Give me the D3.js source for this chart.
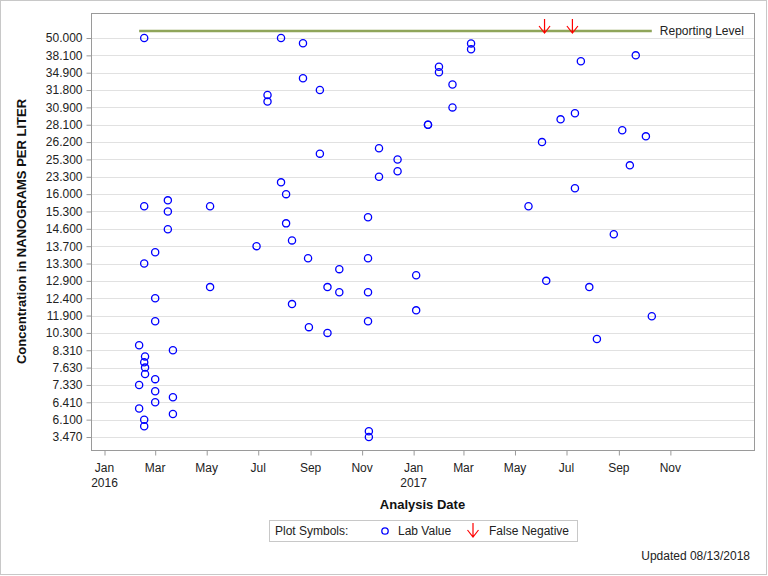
<!DOCTYPE html>
<html><head><meta charset="utf-8">
<script src="https://cdn.jsdelivr.net/npm/d3@7"></script>
<style>
html,body{margin:0;padding:0;background:#fff;}
svg{display:block;font-family:"Liberation Sans",Arial,sans-serif;}
</style></head>
<body>
<svg id="chart" width="768" height="576"></svg>
<script>
// ---- data ----
const yTickValues = [50.0,38.1,34.9,31.8,30.9,28.1,26.2,25.3,23.3,16.0,15.3,14.6,13.7,13.3,12.9,12.4,11.9,10.3,8.31,7.63,7.33,6.41,6.1,3.47];
const xTickDates = ["2016-01-01","2016-03-01","2016-05-01","2016-07-01","2016-09-01","2016-11-01","2017-01-01","2017-03-01","2017-05-01","2017-07-01","2017-09-01","2017-11-01"];
const sampleDates = [
 "2016-02-11","2016-02-11","2016-02-11","2016-02-17","2016-02-17","2016-02-17","2016-02-17","2016-02-17","2016-02-17",
 "2016-02-18","2016-02-18","2016-02-18","2016-03-01","2016-03-01","2016-03-01","2016-03-01","2016-03-01","2016-03-01",
 "2016-03-16","2016-03-16","2016-03-16","2016-03-22","2016-03-22","2016-03-22","2016-05-05","2016-05-05","2016-06-29",
 "2016-07-12","2016-07-12","2016-07-28","2016-07-28","2016-08-03","2016-08-03","2016-08-10","2016-08-10","2016-08-23",
 "2016-08-23","2016-08-29","2016-08-30","2016-09-12","2016-09-12","2016-09-21","2016-09-21","2016-10-05","2016-10-05",
 "2016-11-08","2016-11-08","2016-11-08","2016-11-08","2016-11-09","2016-11-09","2016-11-21","2016-11-21","2016-12-13",
 "2016-12-13","2017-01-04","2017-01-04","2017-01-18","2017-01-18","2017-01-31","2017-01-31","2017-02-16","2017-02-16",
 "2017-03-10","2017-03-10","2017-05-17","2017-06-02","2017-06-07","2017-06-24","2017-07-11","2017-07-11","2017-07-18",
 "2017-07-28","2017-08-06","2017-08-26","2017-09-05","2017-09-14","2017-09-21","2017-10-03","2017-10-10"];
const labValues = [
 8.89,7.33,6.30,50.0,15.51,13.3,7.84,6.1,5.1,
 8.07,7.63,7.52,13.56,12.4,11.37,7.43,7.0,6.41,
 15.75,15.3,14.58,8.31,6.68,6.20,15.51,12.72,13.7,
 31.54,31.2,50.0,20.96,16.0,14.82,14.0,12.23,46.4,
 33.9,13.42,10.83,31.8,25.6,12.72,10.3,13.17,12.57,
 15.07,13.42,12.57,11.37,4.34,3.47,25.88,23.3,25.3,
 23.94,13.03,12.05,28.1,28.1,36.0,34.97,32.8,30.9,
 46.3,42.3,15.51,26.2,12.9,28.97,29.95,18.48,37.0,
 12.72,9.6,14.32,27.5,24.62,38.1,26.83,11.84];
const falseNegativeDates = ["2017-06-05","2017-07-08"];
const reportingLevel = 54.8;
const reportingLevelDates = ["2016-02-11","2017-10-10"];
const xDomain = ["2015-12-16","2018-02-08"];

// ---- layout ----
const svg = d3.select("#chart");
const parse = d3.timeParse("%Y-%m-%d");
const plot = {left:91, top:13, right:754, bottom:450};
const padY = 25;
const font = '"Liberation Sans",Arial,sans-serif';

svg.append("rect").attr("x",0.5).attr("y",0.5).attr("width",766).attr("height",574)
  .attr("fill","#fff").attr("stroke","#c8c8c8");

const x = d3.scaleTime().domain(xDomain.map(parse)).range([plot.left, plot.right]);
const ascTicks = yTickValues.slice().sort((a,b)=>a-b);
const yTop = plot.top + padY, yBot = plot.bottom - 13;
const step = (yBot - yTop)/(ascTicks.length-1);
const y = d3.scaleLinear().domain(ascTicks).range(ascTicks.map((d,i)=>yBot - i*step));

// gridlines
svg.append("g").selectAll("line").data(yTickValues).join("line")
  .attr("x1",plot.left).attr("x2",plot.right)
  .attr("y1",d=>Math.round(y(d))+0.5).attr("y2",d=>Math.round(y(d))+0.5)
  .attr("stroke","#e1e1e1").attr("stroke-width",1);

// frame
svg.append("rect").attr("x",plot.left+0.5).attr("y",plot.top+0.5)
  .attr("width",plot.right-plot.left).attr("height",plot.bottom-plot.top)
  .attr("fill","none").attr("stroke","#9a9a9a");

// y axis
const yAxis = svg.append("g").attr("transform",`translate(${plot.left+0.5},0)`)
  .call(d3.axisLeft(y).tickValues(yTickValues).tickFormat(d3.format(".3f")).tickSize(5).tickPadding(4));
yAxis.select(".domain").remove();
yAxis.selectAll(".tick line").attr("stroke","#9a9a9a");
yAxis.selectAll(".tick text").attr("font-family",font).attr("font-size",12).attr("fill","#222");

// x axis
const xAxis = svg.append("g").attr("transform",`translate(0,${plot.bottom+0.5})`)
  .call(d3.axisBottom(x).tickValues(xTickDates.map(parse)).tickSize(5).tickFormat(""));
xAxis.select(".domain").remove();
xAxis.selectAll(".tick line").attr("stroke","#9a9a9a");
const xt = svg.append("g").selectAll("text").data(xTickDates.map(parse)).join("text")
  .attr("x",d=>x(d)).attr("y",472).attr("text-anchor","middle")
  .attr("font-family",font).attr("font-size",12).attr("fill","#222");
xt.append("tspan").attr("x",d=>x(d)).text(d3.timeFormat("%b"));
xt.filter(d=>d.getMonth()===0).append("tspan").attr("x",d=>x(d)).attr("dy",15).text(d3.timeFormat("%Y"));

// axis titles
svg.append("text").attr("x",(plot.left+plot.right)/2).attr("y",509).attr("text-anchor","middle")
  .attr("font-family",font).attr("font-size",13).attr("font-weight","bold").attr("fill","#111")
  .text("Analysis Date");
svg.append("text").attr("transform",`translate(26,${(plot.top+plot.bottom)/2}) rotate(-90)`)
  .attr("text-anchor","middle").attr("font-family",font).attr("font-size",13).attr("font-weight","bold").attr("fill","#111")
  .text("Concentration in NANOGRAMS PER LITER");

// reporting level
const rl = reportingLevelDates.map(parse);
const rlY = y(reportingLevel);
svg.append("line").attr("x1",x(rl[0])).attr("x2",x(rl[1])).attr("y1",rlY).attr("y2",rlY)
  .attr("stroke","#8fa55a").attr("stroke-width",2.5);
svg.append("text").attr("x",x(rl[1])+8).attr("y",rlY).attr("dy","0.35em")
  .attr("font-family",font).attr("font-size",12).attr("fill","#222").text("Reporting Level");

// lab values
const points = sampleDates.map((d,i)=>({date:parse(d), value:labValues[i]}));
svg.append("g").selectAll("circle").data(points).join("circle")
  .attr("cx",d=>x(d.date)).attr("cy",d=>y(d.value)).attr("r",3.6)
  .attr("fill","none").attr("stroke","#0000ff").attr("stroke-width",1.3);

// false negative arrows
function arrowPath(cx, tip){
  return `M${cx},${tip-14}L${cx},${tip}M${cx-5.5},${tip-7}L${cx},${tip}L${cx+5.5},${tip-7}`;
}
svg.append("g").selectAll("path").data(falseNegativeDates.map(parse)).join("path")
  .attr("d",d=>arrowPath(x(d), rlY+2)).attr("fill","none").attr("stroke","#ff0000").attr("stroke-width",1.2);

// legend
const lg = svg.append("g");
lg.append("rect").attr("x",269.5).attr("y",520.5).attr("width",308).attr("height",21)
  .attr("fill","#fff").attr("stroke","#c8c8c8");
lg.append("text").attr("x",275).attr("y",531).attr("dy","0.35em").attr("font-family",font).attr("font-size",12).attr("fill","#222").text("Plot Symbols:");
lg.append("circle").attr("cx",385).attr("cy",531).attr("r",3.2).attr("fill","none").attr("stroke","#0000ff").attr("stroke-width",1.3);
lg.append("text").attr("x",398).attr("y",531).attr("dy","0.35em").attr("font-family",font).attr("font-size",12).attr("fill","#222").text("Lab Value");
lg.append("path").attr("d",arrowPath(473,537)).attr("fill","none").attr("stroke","#ff0000").attr("stroke-width",1.2);
lg.append("text").attr("x",489).attr("y",531).attr("dy","0.35em").attr("font-family",font).attr("font-size",12).attr("fill","#222").text("False Negative");

svg.append("text").attr("x",750).attr("y",560).attr("text-anchor","end")
  .attr("font-family",font).attr("font-size",12).attr("fill","#222").text("Updated 08/13/2018");
</script>
</body></html>
